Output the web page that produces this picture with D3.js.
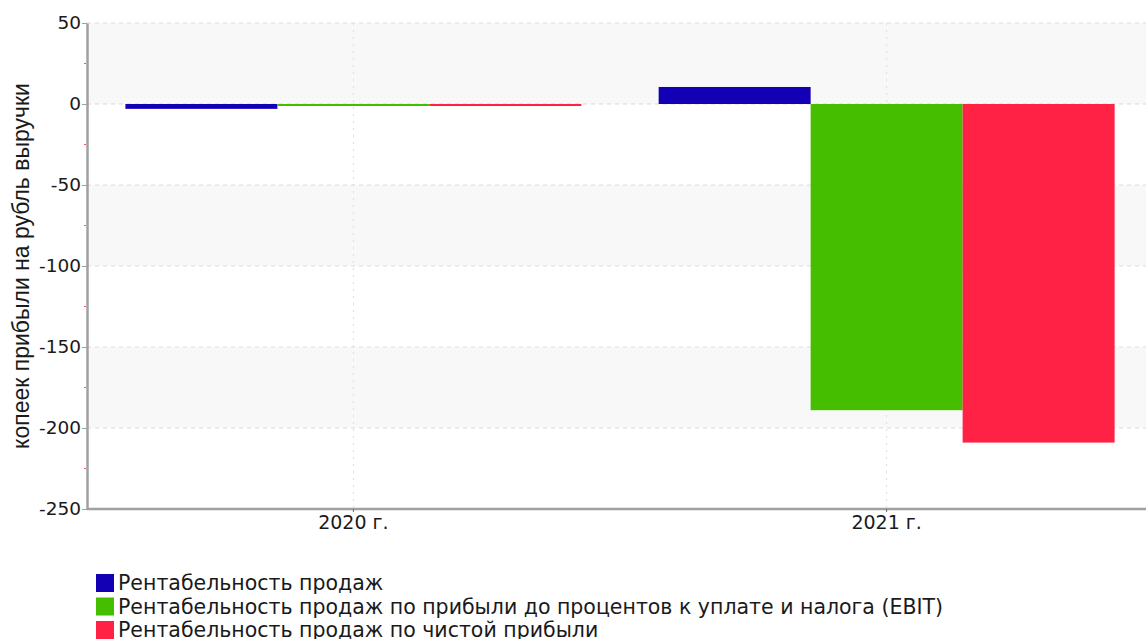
<!DOCTYPE html>
<html>
<head>
<meta charset="utf-8">
<script src="https://cdn.jsdelivr.net/npm/d3@7"></script>
<style>
  body { margin: 0; background: #fff; }
  svg { display: block; }
</style>
</head>
<body>
<div id="chart"></div>
<script>
// data
const years = ["2020 г.", "2021 г."];
const seriesNames = [
  "Рентабельность продаж",
  "Рентабельность продаж по прибыли до процентов к уплате и налога (EBIT)",
  "Рентабельность продаж по чистой прибыли"
];
const salesMargin = [-3, 10.5];
const ebitMargin = [-1, -189];
const netMargin = [-0.9, -209];
const yTicks = [50, 0, -50, -100, -150, -200, -250];
const colors = ["#1400b4", "#46be00", "#ff2244"];

const width = 1146, height = 639;
const margin = { top: 23, right: -7, bottom: 130, left: 87 };

const svg = d3.select("#chart")
  .append("svg")
  .attr("width", width)
  .attr("height", height);

const yScale = d3.scaleLinear()
  .domain([-250, 50])
  .range([height - margin.bottom, margin.top]);

const xScale = d3.scaleBand()
  .domain(years)
  .range([margin.left, width - margin.right])
  .paddingInner(0.145)
  .paddingOuter(0.072);

const xSub = d3.scaleBand()
  .domain(d3.range(seriesNames.length))
  .range([0, xScale.bandwidth()]);

/*
  background bands + grid
*/
const bands = d3.range(yTicks.length - 1);
svg.selectAll(".band")
  .data(bands)
  .enter()
  .append("rect")
    .attr("x", margin.left)
    .attr("y", i => yScale(yTicks[i]))
    .attr("width", width - margin.left)
    .attr("height", i => yScale(yTicks[i + 1]) - yScale(yTicks[i]))
    .attr("fill", i => i % 2 === 0 ? "#f8f8f8" : "#ffffff");

svg.selectAll(".hgrid")
  .data(yTicks.slice(0, -1))
  .enter()
  .append("line")
    .attr("x1", margin.left)
    .attr("x2", width)
    .attr("y1", d => yScale(d))
    .attr("y2", d => yScale(d))
    .attr("stroke", d => d === 0 ? "#e6d2d6" : "#dddddd")
    .attr("stroke-dasharray", "4,4");

svg.selectAll(".vgrid")
  .data(years)
  .enter()
  .append("line")
    .attr("x1", d => xScale(d) + xScale.bandwidth() / 2)
    .attr("x2", d => xScale(d) + xScale.bandwidth() / 2)
    .attr("y1", margin.top)
    .attr("y2", height - margin.bottom)
    .attr("stroke", "#dddddd")
    .attr("stroke-dasharray", "2,5");

/*
  bars
*/
const allSeries = [salesMargin, ebitMargin, netMargin];
years.forEach((yr, yi) => {
  svg.selectAll(".bar" + yi)
    .data(allSeries.map((s, si) => ({ si: si, v: s[yi] })))
    .enter()
    .append("rect")
      .attr("x", d => xScale(yr) + xSub(d.si))
      .attr("width", xSub.bandwidth())
      .attr("y", d => Math.min(yScale(d.v), yScale(0)))
      .attr("height", d => Math.max(Math.abs(yScale(d.v) - yScale(0)), 2))
      .attr("fill", d => colors[d.si]);
});

/*
  axes
*/
const yAxis = svg.append("g")
  .attr("transform", `translate(${margin.left},0)`)
  .call(d3.axisLeft(yScale).tickValues(yTicks).tickSize(5).tickSizeOuter(0)
          .tickFormat(d => String(d)))
  .attr("font-family", "DejaVu Sans, Verdana, sans-serif")
  .attr("font-size", "18.5px");
yAxis.select(".domain").attr("stroke", "#a0a0a0").attr("stroke-width", 2.5);
yAxis.selectAll(".tick line").attr("stroke", "#a0a0a0");
yAxis.selectAll(".tick text").attr("fill", "#1a1a1a").attr("x", -6);

// small red minor ticks
svg.selectAll(".minor")
  .data(yTicks.slice(0, -1).map(d => d - 25))
  .enter()
  .append("line")
    .attr("x1", margin.left - 3)
    .attr("x2", margin.left - 1)
    .attr("y1", d => yScale(d))
    .attr("y2", d => yScale(d))
    .attr("stroke", "#ff5555");

const xAxis = svg.append("g")
  .attr("transform", `translate(0,${height - margin.bottom})`)
  .call(d3.axisBottom(xScale).tickSize(3).tickSizeOuter(0))
  .attr("font-family", "DejaVu Sans, Verdana, sans-serif")
  .attr("font-size", "19px");
xAxis.select(".domain").attr("stroke", "#a0a0a0").attr("stroke-width", 2.5)
  .attr("d", `M${margin.left},0H${width}`);
xAxis.selectAll(".tick line").attr("stroke", "#666");
xAxis.selectAll(".tick text").attr("fill", "#1a1a1a").attr("y", 7);

svg.append("text")
  .attr("transform", `translate(29,${(yScale(50) + yScale(-250)) / 2}) rotate(-90)`)
  .attr("text-anchor", "middle")
  .attr("font-family", "Liberation Sans, Arial, sans-serif")
  .attr("font-size", "23px")
  .attr("fill", "#1a1a1a")
  .text("копеек прибыли на рубль выручки");

/*
  legend
*/
const legend = svg.selectAll(".legend")
  .data(seriesNames)
  .enter()
  .append("g")
    .attr("transform", (d, i) => `translate(96,${574 + i * 23.5})`);

legend.append("rect")
  .attr("width", 18)
  .attr("height", 18)
  .attr("fill", (d, i) => colors[i]);

legend.append("text")
  .attr("x", 22)
  .attr("y", 16)
  .attr("font-family", "DejaVu Sans, Verdana, sans-serif")
  .attr("font-size", "20.5px")
  .attr("fill", "#1a1a1a")
  .text(d => d);
</script>
</body>
</html>
